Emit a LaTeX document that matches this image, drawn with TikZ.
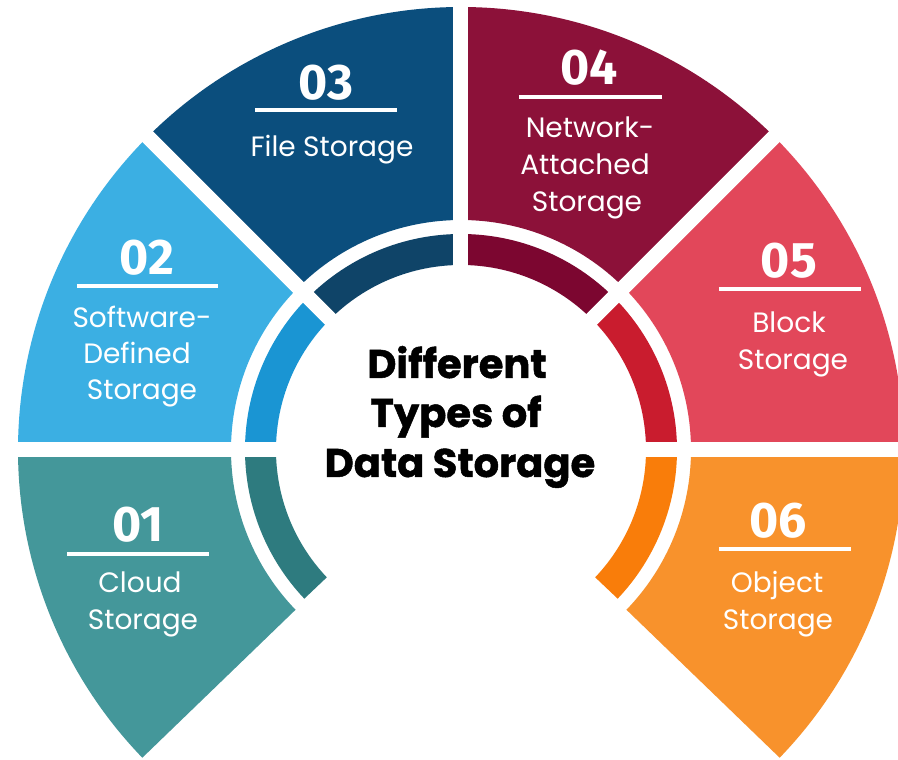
\documentclass[tikz,border=0pt]{standalone}
\usepackage{fontspec}
\setmainfont{Poppins}
\newfontfamily\numfont{Fira Sans}
\newfontfamily\titlefont[BoldFeatures={FakeBold=1.2}]{Poppins}
\definecolor{cA}{HTML}{44979A}\definecolor{tA}{HTML}{2E7B7F}
\definecolor{cB}{HTML}{3BAFE3}\definecolor{tB}{HTML}{1A95D3}
\definecolor{cC}{HTML}{0B4E7D}\definecolor{tC}{HTML}{0F4468}
\definecolor{cD}{HTML}{8C1139}\definecolor{tD}{HTML}{7C0630}
\definecolor{cE}{HTML}{E2475A}\definecolor{tE}{HTML}{C91C2E}
\definecolor{cF}{HTML}{F8922C}\definecolor{tF}{HTML}{F97D0A}
\tikzset{
  numtxt/.style={anchor=base, text=white, inner sep=0pt, font=\numfont\bfseries\fontsize{50}{50}\selectfont},
  labtxt/.style={anchor=base, text=white, inner sep=0pt, font=\fontsize{28}{28}\selectfont},
  titletxt/.style={anchor=base, text=black, inner sep=0pt, font=\titlefont\bfseries\fontsize{40}{40}\selectfont},
  rule/.style={white, line width=4pt},
  gapline/.style={white, line width=15pt},
}
\newcommand{\sector}[5]{% color, a1, a2, rin, rout
  \fill[#1] (#2:#5) arc[start angle=#2, end angle=#3, radius=#5] -- (#3:#4) arc[start angle=#3, end angle=#2, radius=#4] -- cycle;}
\begin{document}
\begin{tikzpicture}[x=1pt,y=1pt]
\useasboundingbox (-461,-310) rectangle (437,450);
\clip (-461,-310) rectangle (437,450);
\fill[white] (-461,-310) rectangle (437,450);
% outer ring
\sector{cA}{180}{224}{230}{443}
\sector{cB}{135}{180}{230}{443}
\sector{cC}{90}{135}{230}{443}
\sector{cD}{45}{90}{230}{443}
\sector{cE}{0}{45}{230}{443}
\sector{cF}{-44}{0}{230}{443}
% thin ring
\sector{tA}{180}{223.5}{185}{216}
\sector{tB}{135}{180}{185}{216}
\sector{tC}{90}{135}{185}{216}
\sector{tD}{45}{90}{185}{216}
\sector{tE}{0}{45}{185}{216}
\sector{tF}{-43.5}{0}{185}{216}
% gaps
\foreach \a in {0,45,90,135,180} \draw[gapline] (\a:150) -- (\a:470);
% 03
\node[numtxt] (n3) at (-135,350) {03};
\coordinate (r3a) at (-206,340); \coordinate (r3b) at (-64,340);
\draw[rule] (r3a) -- (r3b);
\node[labtxt] (l3) at (-129,293) {File Storage};
% 02
\node[numtxt] (n2) at (-314,175) {02};
\coordinate (r2a) at (-384,164); \coordinate (r2b) at (-243,164);
\draw[rule] (r2a) -- (r2b);
\node[labtxt] (l2a) at (-319,122) {Software-};
\node[labtxt] (l2b) at (-324,86) {Defined};
\node[labtxt] (l2c) at (-319,50) {Storage};
% 04
\node[numtxt] (n4) at (128,365) {04};
\coordinate (r4a) at (58,353); \coordinate (r4b) at (201,353);
\draw[rule] (r4a) -- (r4b);
\node[labtxt] (l4a) at (129,312) {Network-};
\node[labtxt] (l4b) at (124,275) {Attached};
\node[labtxt] (l4c) at (126,238) {Storage};
% 05
\node[numtxt] (n5) at (328,172) {05};
\coordinate (r5a) at (258,161); \coordinate (r5b) at (400,161);
\draw[rule] (r5a) -- (r5b);
\node[labtxt] (l5a) at (328,117) {Block};
\node[labtxt] (l5b) at (332,80) {Storage};
% 01
\node[numtxt] (n1) at (-323,-92) {01};
\coordinate (r1a) at (-394,-104); \coordinate (r1b) at (-252,-104);
\draw[rule] (r1a) -- (r1b);
\node[labtxt] (l1a) at (-321,-143) {Cloud};
\node[labtxt] (l1b) at (-318,-180) {Storage};
% 06
\node[numtxt] (n6) at (317,-88) {06};
\coordinate (r6a) at (258,-99); \coordinate (r6b) at (390,-99);
\draw[rule] (r6a) -- (r6b);
\node[labtxt] (l6a) at (316,-143) {Object};
\node[labtxt] (l6b) at (317,-180) {Storage};
% title
\node[titletxt] (t1) at (-4,72) {Different};
\node[titletxt] (t2) at (-5,23) {Types of};
\node[titletxt] (t3) at (-1,-27) {Data Storage};
\end{tikzpicture}
\end{document}
